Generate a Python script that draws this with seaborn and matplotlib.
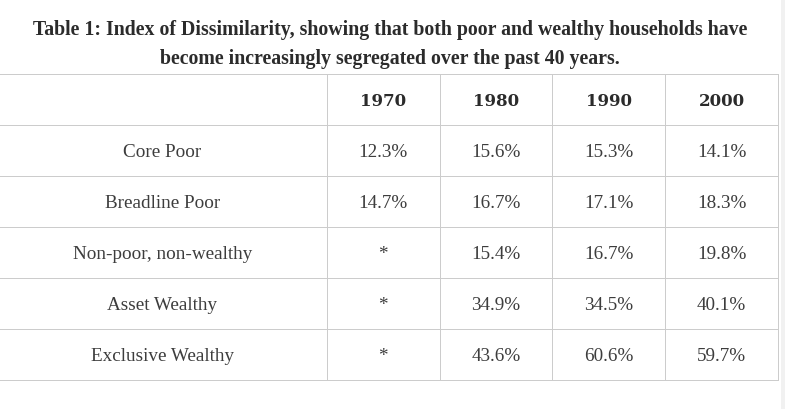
import numpy as np
import matplotlib
matplotlib.use("Agg")
import matplotlib.pyplot as plt
from matplotlib.colors import ListedColormap
from matplotlib.patches import Rectangle
import seaborn as sns

# Table data
years = ['1970', '1980', '1990', '2000']
groups = ['Core Poor', 'Breadline Poor', 'Non-poor, non-wealthy',
          'Asset Wealthy', 'Exclusive Wealthy']
v1970 = [12.3, 14.7, None, None, None]
v1980 = [15.6, 16.7, 15.4, 34.9, 43.6]
v1990 = [15.3, 17.1, 16.7, 34.5, 60.6]
v2000 = [14.1, 18.3, 19.8, 40.1, 59.7]

title_lines = ['Table 1: Index of Dissimilarity, showing that both poor and wealthy households have',
               'become increasingly segregated over the past 40 years.']

sns.set_style('white')
plt.rcParams['font.family'] = ['Liberation Serif', 'DejaVu Serif']

W, H = 785, 409
fig = plt.figure(figsize=(W / 100, H / 100), dpi=100)
fig.patch.set_facecolor('white')

# cell text grid: header row + one row per group, label column + year columns
def fmt(v):
    return '*' if v is None else f'{v:.1f}%'

cells = [[''] + years]
for i, g in enumerate(groups):
    cells.append([g] + [fmt(col[i]) for col in (v1970, v1980, v1990, v2000)])
cells = np.array(cells, dtype=object)
grid = np.zeros(cells.shape)

# table area in pixels
left, right, top, bottom = -2, 778, 74, 380
ax = fig.add_axes([left / W, 1 - bottom / H, (right - left) / W, (bottom - top) / H])

# first column is wider than the year columns
wide = (327 - left) / ((right - 327) / 4)
fwd = lambda x: np.where(x < 1, x * wide, wide + (x - 1))
inv = lambda y: np.where(y < wide, y / wide, 1 + (y - wide))

sns.heatmap(grid, ax=ax, cmap=ListedColormap(['white']), cbar=False,
            annot=cells, fmt='', linewidths=0.72, linecolor='#cccccc',
            annot_kws={'color': '#3d3d3d', 'fontsize': 13.8,
                       'va': 'center_baseline'})
mesh = ax.collections[0]
mesh.set_snap(True)
mesh.set_clip_on(False)
ax.set_xscale('function', functions=(fwd, inv))
ax.set_xlim(0, cells.shape[1])
ax.set_xticks([])
ax.set_yticks([])
for s in ax.spines.values():
    s.set_visible(False)

ncol = cells.shape[1]
for k, t in enumerate(ax.texts):
    if k < ncol:
        t.set_fontweight('bold')
        t.set_color('#2b2b2b')
        t.set_fontsize(12)
        t.set_family(['DejaVu Serif'])

for line, base in zip(title_lines, [35, 64]):
    fig.text(0.497, 1 - base / H, line, ha='center', va='baseline', fontsize=14.3,
             fontweight='bold', color='#2b2b2b')

# light strip at the right edge
fig.add_artist(Rectangle((781 / W, 0), 4 / W, 1, transform=fig.transFigure,
                         facecolor='#f1f1f1', edgecolor='none'))

fig.savefig('out.png', dpi=100)
